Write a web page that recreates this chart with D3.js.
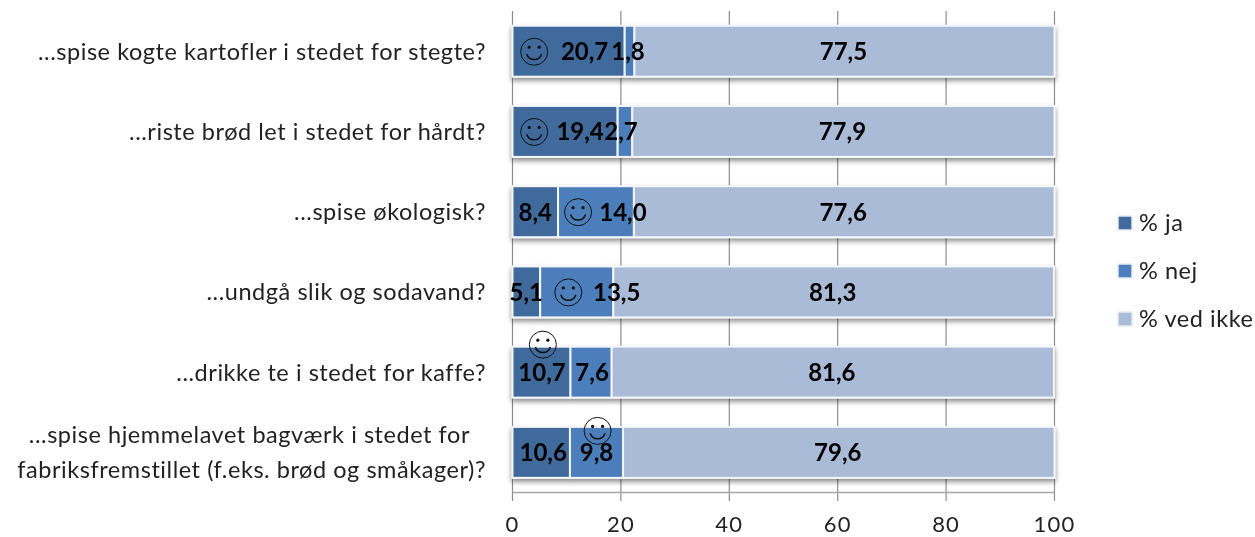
<!DOCTYPE html>
<html><head><meta charset="utf-8">
<script src="https://cdn.jsdelivr.net/npm/d3@7/dist/d3.min.js"></script>
<style>html,body{margin:0;padding:0;background:#fff}svg{display:block}text{font-family:Lato,"Open Sans",sans-serif}</style>
</head><body><div id="c"></div>
<script>
const categories = [
 ["...spise kogte kartofler i stedet for stegte?"],
 ["...riste brød let i stedet for hårdt?"],
 ["...spise økologisk?"],
 ["...undgå slik og sodavand?"],
 ["...drikke te i stedet for kaffe?"],
 ["...spise hjemmelavet bagværk i stedet for","fabriksfremstillet (f.eks. brød og småkager)?"]
];
const seriesNames = ["% ja","% nej","% ved ikke"];
const ja = [20.7,19.4,8.4,5.1,10.7,10.6];
const nej = [1.8,2.7,14.0,13.5,7.6,9.8];
const vedIkke = [77.5,77.9,77.6,81.3,81.6,79.6];
const ticks = [0,20,40,60,80,100];
const smileyAt = [4,4,12.1,10.3,5.6,15.7];
const smileyLift = [0,0,0,0,28,22];
const labelShiftJa = [16,15,0,0,0.5,2];
const labelShiftNej = [-1.5,-4,27,40,1,0];
const colors = ["#3f6a9c","#4c7eba","#aabbd8"];

const W=1255,H=537;
const x=d3.scaleLinear().domain([0,100]).range([512.5,1054.5]);
const y=d3.scaleBand().domain(d3.range(6)).range([11.3,492.3]).paddingInner(0.365).paddingOuter(0.18);
const svg=d3.select("#c").append("svg").attr("width",W).attr("height",H);
const defs=svg.append("defs");
const f=defs.append("filter").attr("id","sh").attr("x","-5%").attr("y","-20%").attr("width","110%").attr("height","150%");
f.append("feDropShadow").attr("dx",0).attr("dy",3).attr("stdDeviation",2.5).attr("flood-color","#000").attr("flood-opacity",0.45);
const soft=defs.append("filter").attr("id","soft");
soft.append("feGaussianBlur").attr("stdDeviation",0.4);

const root=svg.append("g").attr("filter","url(#soft)");
root.append("g").selectAll("line").data(ticks).join("line")
 .attr("x1",d=>x(d)).attr("x2",d=>x(d)).attr("y1",11).attr("y2",501)
 .attr("stroke","#8c8c8c").attr("stroke-width",1.2);
root.append("line").attr("x1",x(0)).attr("x2",x(100)).attr("y1",492.5).attr("y2",492.5)
 .attr("stroke","#a8a8a8").attr("stroke-width",1.5);

const rows=d3.range(6).map(i=>{
  const v=[ja[i],nej[i],vedIkke[i]];let c=0;
  return v.map((d,s)=>{const o={i,s,d,x0:c,x1:c+d};c+=d;return o;});
});
const g=root.append("g").selectAll("g").data(rows).join("g").attr("filter","url(#sh)");
g.selectAll("rect").data(d=>d).join("rect")
 .attr("x",d=>x(d.x0)).attr("width",d=>x(d.x1)-x(d.x0))
 .attr("y",d=>y(d.i)).attr("height",y.bandwidth())
 .attr("fill",d=>colors[d.s]).attr("stroke","#f4f6fa").attr("stroke-width",2);

const fmt=v=>v.toFixed(1).replace(".",",");
const shift=d=>d.s==0?labelShiftJa[d.i]:d.s==1?labelShiftNej[d.i]:-1;
root.append("g").selectAll("text").data(rows.flat()).join("text")
 .attr("x",d=>x((d.x0+d.x1)/2)+shift(d)).attr("y",d=>y(d.i)+y.bandwidth()/2+9)
 .attr("text-anchor","middle").attr("font-size",24).attr("font-weight",700).attr("fill","#000")
 .text(d=>fmt(d.d));

const sm=root.append("g").selectAll("g").data(smileyAt).join("g")
 .attr("transform",(d,i)=>`translate(${x(d)},${y(i)+y.bandwidth()/2-smileyLift[i]+0.5})`)
 .attr("fill","none").attr("stroke","#111").attr("stroke-width",1);
sm.append("circle").attr("r",13.5);
sm.append("path").attr("d",d3.arc()({innerRadius:7.8,outerRadius:7.8,startAngle:Math.PI/2+0.3,endAngle:Math.PI*1.5-0.3})).attr("stroke-width",1.5);
sm.selectAll("circle.e").data([-5,5]).join("circle").attr("class","e").attr("cx",d=>d).attr("cy",-4.5).attr("r",1.6).attr("fill","#111").attr("stroke","none");

const cat=root.append("g").selectAll("text").data(categories).join("text")
 .attr("text-anchor","end").attr("font-size",23.5).attr("letter-spacing",0.55).attr("fill","#222");
cat.each(function(lines,i){
  const t=d3.select(this);const cy=y(i)+y.bandwidth()/2;
  lines.forEach((l,k)=>{
    t.append("tspan").attr("x",lines.length>1&&k==0?470:486).attr("y",cy+8.5+(k-(lines.length-1)/2)*35).text(l);
  });
});

root.append("g").selectAll("text").data(ticks).join("text")
 .attr("x",d=>x(d)).attr("y",532).attr("text-anchor","middle").attr("font-size",22).attr("letter-spacing",1.2).attr("fill","#222").text(d=>d);

const ly=[223,271,319];
const lg=root.append("g").selectAll("g").data(seriesNames).join("g").attr("transform",(d,i)=>`translate(1118,${ly[i]})`);
lg.append("rect").attr("x",0).attr("y",-7).attr("width",14).attr("height",14).attr("fill",(d,i)=>colors[i]).attr("stroke","#e6eaf2").attr("stroke-width",1.5);
lg.append("text").attr("x",21).attr("y",7.5).attr("font-size",23.5).attr("letter-spacing",0.55).attr("fill","#222").text(d=>d);
</script></body></html>
